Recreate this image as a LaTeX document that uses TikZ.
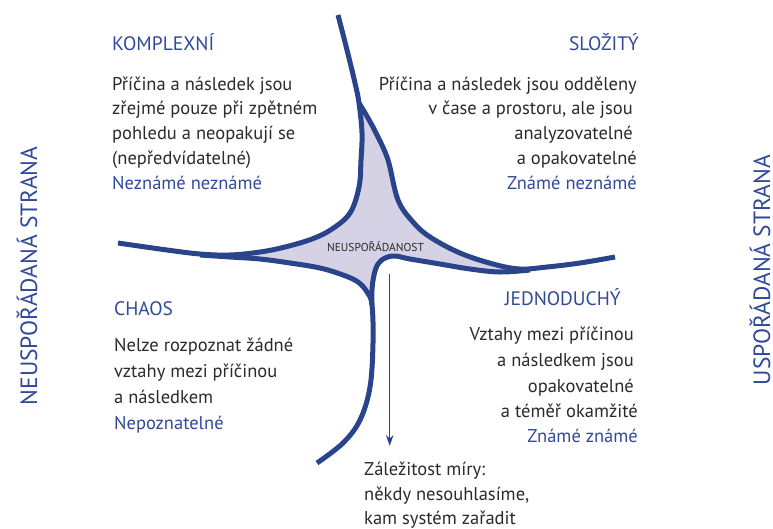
\documentclass[tikz,border=0pt]{standalone}
\usepackage{fontspec}
\setmainfont{PT Sans}
\usetikzlibrary{arrows.meta}
\definecolor{lineblue}{HTML}{2A448C}
\definecolor{headblue}{HTML}{31499A}
\definecolor{starfill}{HTML}{D4D2E4}
\definecolor{bodytext}{HTML}{2B2A29}
\begin{document}
\begin{tikzpicture}[x=1pt,y=-1pt,
  curve/.style={draw=lineblue, line width=5pt, line cap=butt, line join=round},
  smoothplot/.style={smooth, tension=0.6},
  head/.style={text=headblue, font=\fontsize{18.5}{22}\selectfont, inner sep=0pt},
  caps/.style={text=headblue, font=\fontsize{19.5}{22}\selectfont, inner sep=0pt},
  body/.style={text=bodytext, font=\fontsize{18.5}{22}\selectfont, inner sep=0pt},
  side/.style={text=headblue, font=\fontsize{23.5}{26}\selectfont, inner sep=0pt, rotate=90, anchor=base},
  centre/.style={text=bodytext, font=\fontsize{11.5}{13}\selectfont, inner sep=0pt},
  arrowline/.style={draw=lineblue, line width=1.3pt, -{Stealth[length=11pt,width=7.5pt,inset=3.5pt]}}
]
\useasboundingbox (0,0) rectangle (773,528);

% shaded centre of the four curves
\fill[starfill]
  plot[smoothplot] coordinates {(359,103) (377,135) (388,160) (398,200) (413,222) (430,237) (460,253) (493,264) (520,269)}
  -- plot[smoothplot] coordinates {(520,270) (500,272) (470,269) (440,264) (410,259) (395,256) (385,258) (378,264) (374,275) (372,290) (372,305)}
  -- plot[smoothplot] coordinates {(372,305) (367,292) (358,282) (343,275) (320,268) (290,263) (260,259) (230,257)}
  -- plot[smoothplot] coordinates {(230,255) (260,252) (285,247) (312,239) (332,229) (350,213) (359,187) (361,160) (362,133) (359,103)}
  -- cycle;

% top to left
\draw[curve] plot[smoothplot] coordinates {(338,15) (347,50) (355,83) (359,103) (362,133) (361,160) (359,187) (350,213) (332,229) (312,239) (285,247) (260,252) (230,255) (200,254) (167,250) (118,243)};
% top to right
\draw[curve] plot[smoothplot] coordinates {(359,103) (368,118) (377,135) (388,160) (398,200) (413,222) (430,237) (460,253) (493,264) (520,269) (547,267) (580,263) (615,257)};
% left to bottom
\draw[curve] plot[smoothplot] coordinates {(200,255) (230,257) (260,259) (290,263) (320,268) (343,275) (358,282) (367,292) (372,305) (373,343) (370,387) (360,420) (343,443) (317,463)};
% hook from the right into the bottom curve
\draw[curve] plot[smoothplot] coordinates {(530,270) (500,272) (470,269) (440,264) (410,259) (395,256) (385,258) (378,264) (374,275) (372,290) (372,305)};

\node[centre, anchor=base] (disorder) at (375.5,251.7) {NEUSPOŘÁDANOST};

% arrow down to the note
\coordinate (arrtop) at (389.7,274);
\coordinate (arrtip) at (389.7,446);
\draw[arrowline] (arrtop) -- (arrtip);

% upper left quadrant
\node[caps, anchor=base west] (komplex) at (112,50) {KOMPLEXNÍ};
\node[body, anchor=base west] (ul1) at (112,90) {Příčina a následek jsou};
\node[body, anchor=base west] (ul2) at (112,114.8) {zřejmé pouze při zpětném};
\node[body, anchor=base west] (ul3) at (112,139.5) {pohledu a neopakují se};
\node[body, anchor=base west] (ul4) at (112,164.3) {(nepředvídatelné)};
\node[head, anchor=base west] (ul5) at (112,189.2) {Neznámé neznámé};

% upper right quadrant
\node[caps, anchor=base east] (slozity) at (639,50) {SLOŽITÝ};
\node[body, anchor=base east] (ur1) at (637,90) {Příčina a následek jsou odděleny};
\node[body, anchor=base east] (ur2) at (633,114.8) {v čase a prostoru, ale jsou};
\node[body, anchor=base east] (ur3) at (633,139.5) {analyzovatelné};
\node[body, anchor=base east] (ur4) at (637,164.3) {a opakovatelné};
\node[head, anchor=base east] (ur5) at (637,189.2) {Známé neznámé};

% lower left quadrant
\node[caps, anchor=base west] (chaos) at (114,315) {CHAOS};
\node[body, anchor=base west] (ll1) at (114,351.7) {Nelze rozpoznat žádné};
\node[body, anchor=base west] (ll2) at (114,377.5) {vztahy mezi příčinou};
\node[body, anchor=base west] (ll3) at (114,403.3) {a následkem};
\node[head, anchor=base west] (ll4) at (114,429) {Nepoznatelné};

% lower right quadrant
\node[caps, anchor=base east] (jedno) at (621,305) {JEDNODUCHÝ};
\node[body, anchor=base east] (lr1) at (634,340.5) {Vztahy mezi příčinou};
\node[body, anchor=base east] (lr2) at (634,366.5) {a následkem jsou};
\node[body, anchor=base east] (lr3) at (634,392.5) {opakovatelné};
\node[body, anchor=base east] (lr4) at (638,417) {a téměř okamžité};
\node[head, anchor=base east] (lr5) at (638,442) {Známé známé};

% note below the arrow
\node[body, anchor=base west] (note1) at (364,475) {Záležitost míry:};
\node[body, anchor=base west] (note2) at (364,500) {někdy nesouhlasíme,};
\node[body, anchor=base west] (note3) at (364,524.5) {kam systém zařadit};

% side captions, read from bottom to top
\node[side] (leftside) at (37,276) {NEUSPOŘÁDANÁ STRANA};
\node[side] (rightside) at (770,270) {USPOŘÁDANÁ STRANA};
\end{tikzpicture}
\end{document}
